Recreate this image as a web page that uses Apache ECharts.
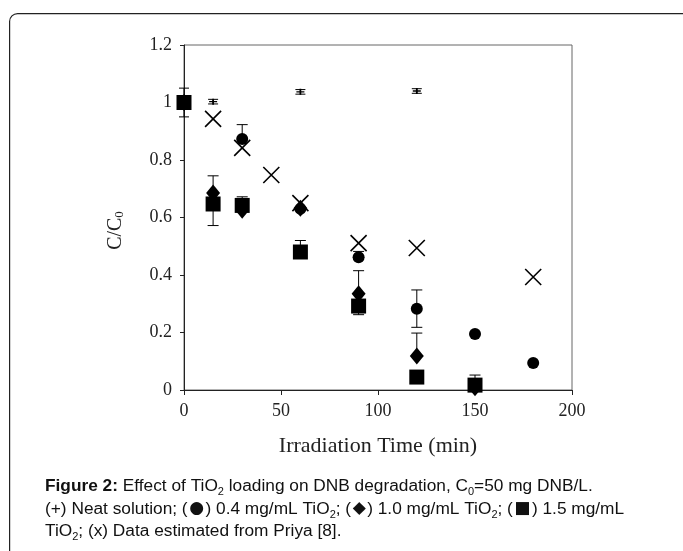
<!DOCTYPE html>
<html>
<head>
<meta charset="utf-8">
<script src="https://cdn.jsdelivr.net/npm/echarts@6/dist/echarts.min.js"></script>
<style>
html,body{margin:0;padding:0;background:#fff;}
#chart{width:683px;height:551px;}
</style>
</head>
<body>
<div id="chart"></div>
<script>
// ---- data ----
var xTicks = [0, 50, 100, 150, 200];
var yTicks = [0, 0.2, 0.4, 0.6, 0.8, 1, 1.2];

var neatX = [0, 15, 60, 120];
var neatY = [1.0, 1.003, 1.037, 1.04];
var neatErrUp = [0.05, 0.008, 0.008, 0.008];
var neatErrDn = [0.05, 0.008, 0.008, 0.008];

var circleX = [0, 30, 60, 90, 120, 150, 180];
var circleY = [1.0, 0.873, 0.63, 0.462, 0.283, 0.195, 0.094];
var circleErrUp = [0, 0.05, 0, 0.02, 0.065, 0, 0];
var circleErrDn = [0, 0, 0, 0, 0.065, 0, 0];

var diamondX = [0, 15, 30, 60, 90, 120, 150];
var diamondY = [1.0, 0.685, 0.625, 0.632, 0.335, 0.118, 0.008];
var diamondErrUp = [0, 0.06, 0, 0, 0.08, 0.08, 0];
var diamondErrDn = [0, 0, 0, 0, 0, 0, 0];

var squareX = [0, 15, 30, 60, 90, 120, 150];
var squareY = [1.0, 0.647, 0.642, 0.48, 0.292, 0.045, 0.017];
var squareErrUp = [0, 0, 0.03, 0.04, 0, 0, 0.035];
var squareErrDn = [0, 0.075, 0, 0, 0.03, 0, 0];

var priyaX = [15, 30, 45, 60, 90, 120, 180];
var priyaY = [0.943, 0.842, 0.748, 0.65, 0.511, 0.494, 0.393];

// ---- build ----
function pts(xs, ys) { return xs.map(function (x, i) { return [x, ys[i]]; }); }
function errs(xs, ys, up, dn) {
  var out = [];
  xs.forEach(function (x, i) { if (up[i] > 0 || dn[i] > 0) out.push([x, ys[i], up[i], dn[i]]); });
  return out;
}
function errSeries(data, cap) {
  return {
    type: 'custom', data: data, z: 5, silent: true,
    renderItem: function (params, api) {
      var x = api.value(0), y = api.value(1), u = api.value(2), d = api.value(3);
      var c = api.coord([x, y]);
      var top = api.coord([x, y + u]);
      var bot = api.coord([x, y - d]);
      var ch = [];
      var st = { stroke: '#000', lineWidth: 1 };
      ch.push({ type: 'line', shape: { x1: c[0], y1: top[1], x2: c[0], y2: bot[1] }, style: st });
      if (u > 0) ch.push({ type: 'line', shape: { x1: c[0] - cap / 2, y1: top[1], x2: c[0] + cap / 2, y2: top[1] }, style: st });
      if (d > 0) ch.push({ type: 'line', shape: { x1: c[0] - cap / 2, y1: bot[1], x2: c[0] + cap / 2, y2: bot[1] }, style: st });
      return { type: 'group', children: ch };
    }
  };
}

var serif = '"Liberation Serif", "DejaVu Serif", serif';
var sans = '"Liberation Sans", Arial, sans-serif';

var chart = echarts.init(document.getElementById('chart'), null, { renderer: 'canvas' });
chart.setOption({
  animation: false,
  backgroundColor: '#fff',
  grid: { left: 184, top: 45, width: 388, height: 345, show: true, borderColor: '#666', borderWidth: 1, backgroundColor: 'transparent' },
  xAxis: {
    type: 'value', min: xTicks[0], max: xTicks[xTicks.length - 1], interval: 50,
    name: 'Irradiation Time (min)', nameLocation: 'middle', nameGap: 45,
    nameTextStyle: { fontFamily: serif, fontSize: 22, color: '#222' },
    axisLine: { show: true, lineStyle: { color: '#222', width: 1 } },
    axisTick: { show: true, inside: false, length: 5, lineStyle: { color: '#222' } },
    axisLabel: { fontFamily: serif, fontSize: 18, color: '#222', margin: 12 },
    splitLine: { show: false }
  },
  yAxis: {
    type: 'value', min: yTicks[0], max: yTicks[yTicks.length - 1], interval: 0.2,
    name: 'C/C{s|0}', nameLocation: 'middle', nameGap: 58, nameRotate: 90,
    nameTextStyle: { fontFamily: serif, fontSize: 20, color: '#222', padding: [0, 26, 0, 0],
      rich: { s: { fontFamily: serif, fontSize: 13, color: '#222', verticalAlign: 'bottom' } } },
    axisLine: { show: true, lineStyle: { color: '#222', width: 1 } },
    axisTick: { show: true, inside: false, length: 4, lineStyle: { color: '#222' } },
    axisLabel: { fontFamily: serif, fontSize: 18, color: '#222', margin: 12 },
    splitLine: { show: false }
  },
  series: [
    {
      type: 'scatter', name: 'Priya', data: pts(priyaX, priyaY), z: 2,
      symbol: 'path://M0,0L10,10M10,0L0,10', symbolSize: 16,
      itemStyle: { color: 'transparent', borderColor: '#000', borderWidth: 1.6, opacity: 1 }
    },
    errSeries(errs(circleX, circleY, circleErrUp, circleErrDn), 11),
    { type: 'scatter', name: '0.4', data: pts(circleX, circleY), symbol: 'circle', symbolSize: 12, itemStyle: { color: '#000', opacity: 1 }, z: 3 },
    errSeries(errs(diamondX, diamondY, diamondErrUp, diamondErrDn), 11),
    { type: 'scatter', name: '1.0', data: pts(diamondX, diamondY), symbol: 'diamond', symbolSize: [14, 17], itemStyle: { color: '#000', opacity: 1 }, z: 3 },
    errSeries(errs(squareX, squareY, squareErrUp, squareErrDn), 11),
    { type: 'scatter', name: '1.5', data: pts(squareX, squareY), symbol: 'rect', symbolSize: 15, itemStyle: { color: '#000', opacity: 1 }, z: 4 },
    errSeries(errs(neatX, neatY, neatErrUp, neatErrDn), 10),
    {
      type: 'scatter', name: 'Neat', data: pts(neatX, neatY), z: 6,
      symbol: 'path://M0,5L10,5M5,0L5,10', symbolSize: [8, 6],
      itemStyle: { color: 'transparent', borderColor: '#000', borderWidth: 1.5, opacity: 1 }
    }
  ],
  graphic: [
    {
      type: 'rect', left: 9, top: 13, z: -1,
      shape: { width: 700, height: 600, r: 8 },
      style: { fill: 'transparent', stroke: '#222', lineWidth: 1.2 }
    },
    {
      type: 'text', left: 45, top: 475,
      style: {
        text: '{b|Figure 2:} Effect of TiO{s|2} loading on DNB degradation, C{s|0}=50 mg DNB/L.\n' +
              '(+) Neat solution; ({g|●}) 0.4 mg/mL TiO{s|2}; ({g|◆}) 1.0 mg/mL TiO{s|2}; ({g|■}) 1.5 mg/mL\n' +
              'TiO{s|2}; (x) Data estimated from Priya [8].',
        fontFamily: sans, fontSize: 17.3, fill: '#111', lineHeight: 22.5,
        rich: {
          b: { fontFamily: sans, fontSize: 17.3, fontWeight: 'bold', fill: '#111', lineHeight: 22.5 },
          s: { fontFamily: sans, fontSize: 11, fill: '#111', verticalAlign: 'bottom', lineHeight: 22.5 },
          g: { fontFamily: '"DejaVu Sans", sans-serif', fontSize: 17, fill: '#111', lineHeight: 22.5, padding: [0, 1.5, 0, 1.5] }
        }
      }
    }
  ]
});
</script>
</body>
</html>
